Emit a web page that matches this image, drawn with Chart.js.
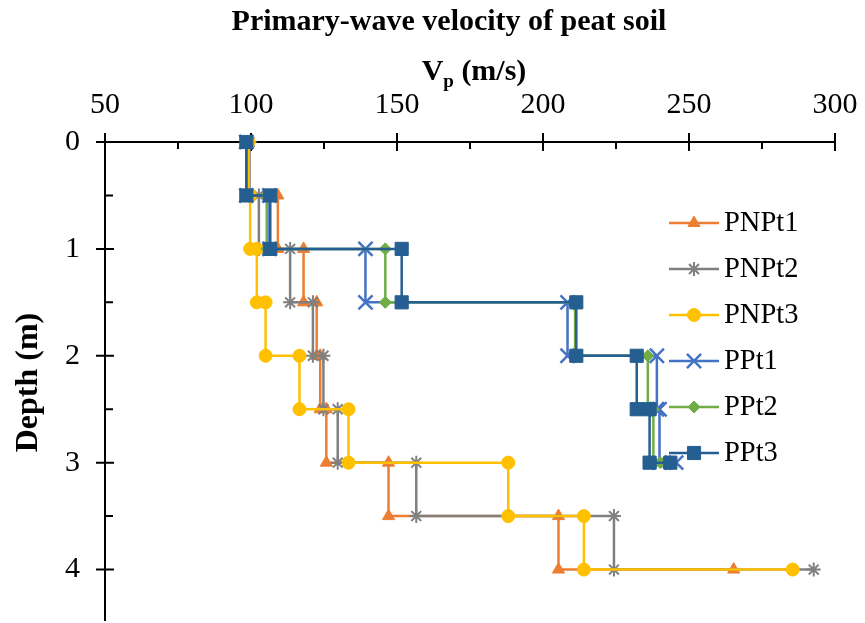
<!DOCTYPE html>
<html><head><meta charset="utf-8">
<script src="https://cdn.jsdelivr.net/npm/chart.js@4.4.1/dist/chart.umd.min.js"></script>
<style>html,body{margin:0;padding:0;background:#fff;}#wrap{width:865px;height:623px;position:relative;}</style>
</head><body><div id="wrap"><canvas id="c" width="865" height="623"></canvas></div>
<script>
// ---- texts ----
const chartTitle = 'Primary-wave velocity of peat soil';
const xTitleMain = 'V', xTitleSub = 'p', xTitleUnit = ' (m/s)';
const yTitle = 'Depth (m)';
const seriesNames = ['PNPt1', 'PNPt2', 'PNPt3', 'PPt1', 'PPt2', 'PPt3'];
// ---- ticks ----
const xTickLabels = [50, 100, 150, 200, 250, 300];
const yTickLabels = [0, 1, 2, 3, 4];
// ---- depths of plotted points (step profiles) ----
const depthPNP = [0, 0.5, 0.5, 1, 1, 1.5, 1.5, 2, 2, 2.5, 2.5, 3, 3, 3.5, 3.5, 4, 4];
const depthPP = [0, 0.5, 0.5, 1, 1, 1.5, 1.5, 2, 2, 2.5, 2.5, 3, 3];
// ---- Vp values (m/s) ----
const vpPNPt1 = [99.0, 99.0, 109.2, 109.2, 118.0, 118.0, 122.5, 122.5, 123.7, 123.7, 125.8, 125.8, 147.1, 147.1, 205.3, 205.3, 265.3];
const vpPNPt2 = [99.5, 99.5, 102.7, 102.7, 113.4, 113.4, 121.2, 121.2, 124.8, 124.8, 129.7, 129.7, 156.6, 156.6, 224.3, 224.3, 292.7];
const vpPNPt3 = [99.2, 99.2, 99.7, 99.7, 102.0, 102.0, 105.0, 105.0, 116.6, 116.6, 133.4, 133.4, 188.1, 188.1, 214.0, 214.0, 285.5];
const vpPPt1 = [98.4, 98.4, 106.3, 106.3, 139.2, 139.2, 208.4, 208.4, 239.0, 239.0, 239.9, 239.9, 245.6];
const vpPPt2 = [98.4, 98.4, 105.4, 105.4, 146.0, 146.0, 211.0, 211.0, 235.9, 235.9, 237.8, 237.8, 240.2];
const vpPPt3 = [98.4, 98.4, 106.6, 106.6, 151.6, 151.6, 211.4, 211.4, 232.1, 232.1, 236.5, 236.5, 243.6];

const seriesValues = [vpPNPt1, vpPNPt2, vpPNPt3, vpPPt1, vpPPt2, vpPPt3];
const seriesDepths = [depthPNP, depthPNP, depthPNP, depthPP, depthPP, depthPP];
const styles = [
  {color: '#ED7D31', point: 'triangle', r: 7, bw: 1},
  {color: '#808080', point: 'star', r: 7, bw: 2},
  {color: '#FFC000', point: 'circle', r: 6.5, bw: 1},
  {color: '#4472C4', point: 'crossRot', r: 10, bw: 2.5},
  {color: '#70AD47', point: 'rectRot', r: 6, bw: 1},
  {color: '#255E91', point: 'rect', r: 9.3, bw: 1}
];
const FONT = "'Liberation Serif', 'Times New Roman', serif";

const datasets = seriesNames.map((name, i) => ({
  label: name,
  data: seriesValues[i].map((v, j) => ({x: v, y: seriesDepths[i][j]})),
  showLine: true,
  borderColor: styles[i].color,
  backgroundColor: styles[i].color,
  borderWidth: 2.5,
  pointStyle: styles[i].point,
  pointRadius: styles[i].r,
  pointHoverRadius: styles[i].r,
  pointBorderWidth: styles[i].bw,
  pointBorderColor: styles[i].color,
  pointBackgroundColor: styles[i].color,
  tension: 0,
  clip: false,
  order: seriesNames.length - i
}));

const decoPlugin = {
  id: 'deco',
  beforeDatasetsDraw(chart) {
    const ctx = chart.ctx, ca = chart.chartArea;
    const xs = chart.scales.x, ys = chart.scales.y;
    ctx.save();
    ctx.strokeStyle = '#000'; ctx.lineWidth = 2; ctx.lineCap = 'butt';
    ctx.beginPath();
    ctx.moveTo(ca.left, ca.top); ctx.lineTo(ca.right + 1, ca.top);
    ctx.moveTo(ca.left, ca.top - 1); ctx.lineTo(ca.left, ca.bottom - 2);
    xs.ticks.forEach(t => {
      const px = xs.getPixelForValue(t.value);
      if (t.value % 50 === 0) { ctx.moveTo(px, ca.top - 9); ctx.lineTo(px, ca.top + 9); }
      else { ctx.moveTo(px, ca.top); ctx.lineTo(px, ca.top + 7); }
    });
    ys.ticks.forEach(t => {
      if (t.value > 4.01) return;
      const py = ys.getPixelForValue(t.value);
      if (Number.isInteger(t.value)) { ctx.moveTo(ca.left - 9, py); ctx.lineTo(ca.left + 9, py); }
      else { ctx.moveTo(ca.left, py); ctx.lineTo(ca.left + 8, py); }
    });
    ctx.stroke();
    ctx.restore();
  },
  afterDraw(chart) {
    const ctx = chart.ctx;
    ctx.save();
    ctx.fillStyle = '#000';
    // chart title
    ctx.font = 'bold 30px ' + FONT;
    ctx.textAlign = 'center'; ctx.textBaseline = 'middle';
    ctx.fillText(chartTitle, 449, 22);
    // x axis title with subscript
    const big = 'bold 30px ' + FONT, small = 'bold 19px ' + FONT;
    ctx.font = big; const w1 = ctx.measureText(xTitleMain).width; const w3 = ctx.measureText(xTitleUnit).width;
    ctx.font = small; const w2 = ctx.measureText(xTitleSub).width;
    let x0 = 474 - (w1 + w2 + w3) / 2;
    ctx.textAlign = 'left'; ctx.textBaseline = 'alphabetic';
    const base = 80;
    ctx.font = big; ctx.fillText(xTitleMain, x0, base);
    ctx.font = small; ctx.fillText(xTitleSub, x0 + w1, base + 7);
    ctx.font = big; ctx.fillText(xTitleUnit, x0 + w1 + w2, base);
    // legend
    ctx.font = '28.5px ' + FONT; ctx.textBaseline = 'middle';
    const H = Chart.helpers;
    seriesNames.forEach((name, i) => {
      const y = 223 + i * 46;
      const st = styles[i];
      ctx.strokeStyle = st.color; ctx.lineWidth = 2.5;
      ctx.beginPath(); ctx.moveTo(669, y); ctx.lineTo(719, y); ctx.stroke();
      ctx.fillStyle = st.color; ctx.strokeStyle = st.color; ctx.lineWidth = st.bw;
      if (H && H.drawPoint) H.drawPoint(ctx, {pointStyle: st.point, radius: st.r, rotation: 0, borderWidth: st.bw}, 694, y);
      ctx.fillStyle = '#000';
      ctx.fillText(name, 724, y + 1);
    });
    ctx.restore();
  }
};

new Chart(document.getElementById('c'), {
  type: 'scatter',
  data: {datasets},
  plugins: [decoPlugin],
  options: {
    responsive: false,
    animation: false,
    devicePixelRatio: 1,
    layout: {autoPadding: false, padding: {left: 0, top: 0, right: 30, bottom: 0}},
    plugins: {legend: {display: false}, title: {display: false}, tooltip: {enabled: false}},
    scales: {
      x: {
        type: 'linear', position: 'top', min: 50, max: 300,
        afterFit(s) { s.height = 142; s.paddingLeft = 0; s.paddingRight = 0; },
        grid: {display: false, drawTicks: false},
        border: {display: false},
        ticks: {
          stepSize: 25, autoSkip: false, maxRotation: 0, padding: 19, color: '#000',
          font: {family: FONT, size: 30},
          callback: v => (xTickLabels.includes(v) ? String(v) : '')
        }
      },
      y: {
        type: 'linear', position: 'left', min: 0, max: 4.5, reverse: true,
        afterFit(s) { s.width = 105; s.paddingTop = 0; s.paddingBottom = 0; },
        grid: {display: false, drawTicks: false},
        border: {display: false},
        title: {display: true, text: yTitle, color: '#000', font: {family: FONT, size: 32, weight: 'bold'}, padding: {top: 10}},
        ticks: {
          stepSize: 0.5, autoSkip: false, padding: 25, color: '#000',
          font: {family: FONT, size: 30},
          callback: v => (yTickLabels.includes(v) ? String(v) : '')
        }
      }
    }
  }
});
</script></body></html>
